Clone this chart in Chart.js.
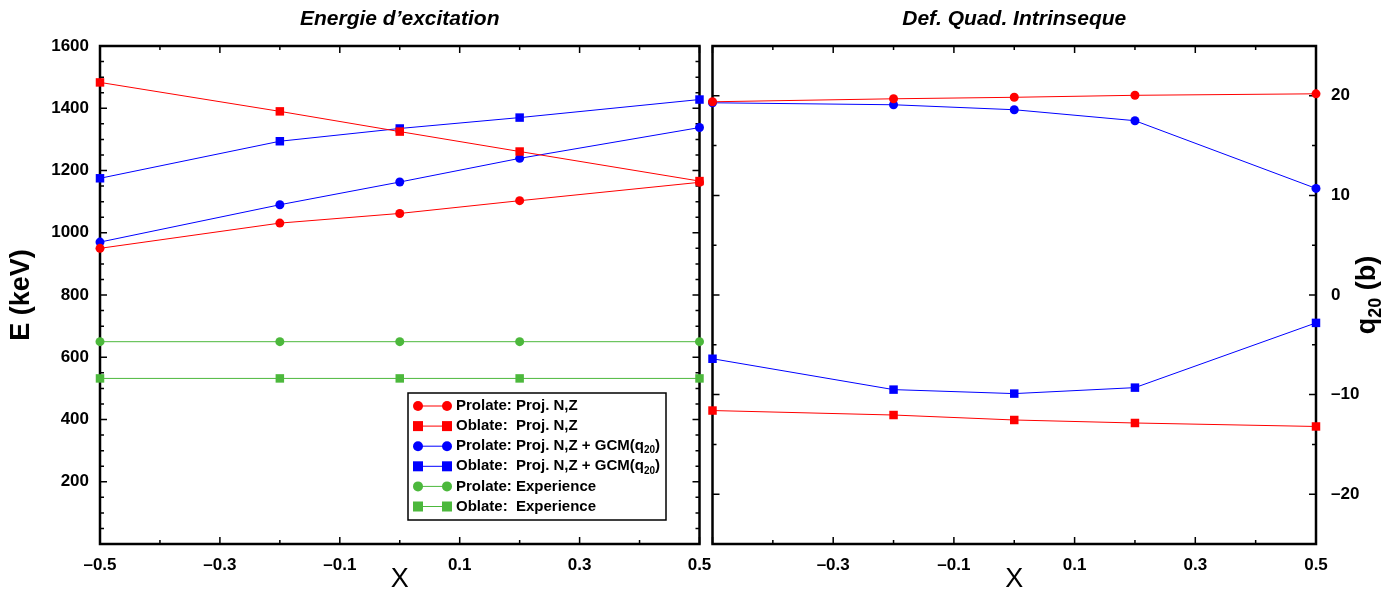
<!DOCTYPE html>
<html>
<head>
<meta charset="utf-8">
<script src="https://cdn.jsdelivr.net/npm/chart.js@4.4.0/dist/chart.umd.min.js"></script>
<style>
  html, body { margin: 0; padding: 0; background: #fff; }
  body { width: 1389px; height: 592px; position: relative; overflow: hidden; }
  #energie { position: absolute; left: 0; top: 0; }
  #quad { position: absolute; left: 704px; top: 0; }
</style>
</head>
<body>
<canvas id="energie" width="712" height="592"></canvas>
<canvas id="quad" width="685" height="592"></canvas>
<script>
// x values shared by every curve
const xVals = [-0.5, -0.2, 0, 0.2, 0.5];

// Energie d'excitation (keV)
const eProlProj = [950, 1031, 1062, 1103, 1162];
const eOblProj  = [1483, 1390, 1325, 1261, 1166];
const eProlGcm  = [970, 1090, 1163, 1239, 1338];
const eOblGcm   = [1175, 1294, 1335, 1370, 1428];
const eProlExp  = [650, 650, 650, 650, 650];
const eOblExp   = [532, 532, 532, 532, 532];

// Def. quad. intrinseque q20 (b)
const qProlProj = [19.4, 19.7, 19.85, 20.05, 20.2];
const qOblProj  = [-11.6, -12.05, -12.55, -12.85, -13.2];
const qProlGcm  = [19.3, 19.1, 18.6, 17.5, 10.7];
const qOblGcm   = [-6.4, -9.5, -9.9, -9.3, -2.8];

// tick labels
const xTicksLeft  = [-0.5, -0.3, -0.1, 0.1, 0.3, 0.5];
const xTicksRight = [-0.3, -0.1, 0.1, 0.3, 0.5];
const eTicks = [200, 400, 600, 800, 1000, 1200, 1400, 1600];
const qTicks = [-20, -10, 0, 10, 20];

const RED = '#ff0000', BLUE = '#0000ff', GREEN = '#4cb83c';

Chart.defaults.font.family = '"Liberation Sans", Arial, sans-serif';
Chart.defaults.color = '#000';

function serie(label, vals, color, style) {
  return {
    label: label,
    data: xVals.map((x, i) => ({ x: x, y: vals[i] })),
    borderColor: color,
    backgroundColor: color,
    borderWidth: 1,
    pointStyle: style,
    pointRadius: style === 'rect' ? 6 : 4.5,
    pointBorderWidth: 0,
    clip: false
  };
}

function fmtX(v) {
  return v < 0 ? '\u2013' + Math.abs(v).toFixed(1) : v.toFixed(1);
}
function fmtInt(v) {
  return v < 0 ? '\u2013' + Math.abs(v) : String(v);
}

function isMajor(v, base, step) {
  const k = (v - base) / step;
  return Math.abs(k - Math.round(k)) < 1e-6;
}

// frame + inward ticks on all four sides
const frame = {
  id: 'frame',
  beforeDatasetsDraw(chart, args, o) {
    const { ctx, chartArea: a, scales: { x, y } } = chart;
    ctx.save();
    ctx.strokeStyle = '#000';
    ctx.lineWidth = 1.5;
    ctx.beginPath();
    let n = Math.round((x.max - x.min) / o.xStep);
    for (let i = 0; i <= n; i++) {
      const v = x.min + i * o.xStep;
      const px = x.getPixelForValue(v);
      const len = isMajor(v, o.xBase, o.xMajor) ? 7 : 4;
      ctx.moveTo(px, a.bottom); ctx.lineTo(px, a.bottom - len);
      ctx.moveTo(px, a.top); ctx.lineTo(px, a.top + len);
    }
    n = Math.round((y.max - y.min) / o.yStep);
    for (let i = 0; i <= n; i++) {
      const v = y.min + i * o.yStep;
      const py = y.getPixelForValue(v);
      const len = isMajor(v, 0, o.yMajor) ? 7 : 4;
      ctx.moveTo(a.left, py); ctx.lineTo(a.left + len, py);
      ctx.moveTo(a.right, py); ctx.lineTo(a.right - len, py);
    }
    ctx.stroke();
    ctx.lineWidth = 2.5;
    ctx.strokeRect(a.left, a.top, a.right - a.left, a.bottom - a.top);
    ctx.restore();
  }
};

// text with "q20" written as q + subscript 20
function richText(ctx, text, x, y, size, rotated) {
  const parts = text.split('q20');
  const big = 'bold ' + size + 'px "Liberation Sans", Arial, sans-serif';
  const small = 'bold ' + Math.round(size * 0.65) + 'px "Liberation Sans", Arial, sans-serif';
  const pieces = [];
  parts.forEach((p, i) => {
    if (i > 0) {
      pieces.push({ t: 'q', f: big, dy: 0 });
      pieces.push({ t: '20', f: small, dy: size * 0.3 });
    }
    if (p) pieces.push({ t: p, f: big, dy: 0 });
  });
  let total = 0;
  pieces.forEach(p => { ctx.font = p.f; p.w = ctx.measureText(p.t).width; total += p.w; });
  let cx = rotated ? -total / 2 : x;
  ctx.textAlign = 'left';
  ctx.textBaseline = 'middle';
  pieces.forEach(p => {
    ctx.font = p.f;
    ctx.fillText(p.t, cx, (rotated ? 0 : y) + p.dy);
    cx += p.w;
  });
}

// titles of panel and axes
const titles = {
  id: 'titles',
  afterDraw(chart, args, o) {
    const { ctx, chartArea: a } = chart;
    const cx = (a.left + a.right) / 2;
    ctx.save();
    ctx.fillStyle = '#000';
    ctx.textAlign = 'center';
    ctx.textBaseline = 'middle';
    ctx.font = 'italic bold 21px "Liberation Sans", Arial, sans-serif';
    ctx.fillText(o.title, cx, 19);
    ctx.font = '27px "Liberation Sans", Arial, sans-serif';
    ctx.fillText(o.xTitle, cx, 580);
    ctx.translate(o.yTitleX, (a.top + a.bottom) / 2);
    ctx.rotate(-Math.PI / 2);
    richText(ctx, o.yTitle, 0, 0, 27, true);
    ctx.restore();
  }
};

// legend drawn inside the left panel
const boxLegend = {
  id: 'boxLegend',
  afterDatasetsDraw(chart, args, o) {
    if (!o.show) return;
    const ctx = chart.ctx;
    ctx.save();
    ctx.fillStyle = '#fff';
    ctx.fillRect(o.x, o.y, o.w, o.h);
    ctx.strokeStyle = '#000';
    ctx.lineWidth = 1.5;
    ctx.strokeRect(o.x, o.y, o.w, o.h);
    chart.data.datasets.forEach((ds, i) => {
      const ry = o.y + 13 + i * 20.1;
      const x1 = o.x + 10, x2 = o.x + 39;
      ctx.strokeStyle = ds.borderColor;
      ctx.fillStyle = ds.borderColor;
      ctx.lineWidth = 1;
      ctx.beginPath(); ctx.moveTo(x1, ry); ctx.lineTo(x2, ry); ctx.stroke();
      [x1, x2].forEach(px => {
        if (ds.pointStyle === 'rect') {
          ctx.fillRect(px - 5, ry - 5, 10, 10);
        } else {
          ctx.beginPath(); ctx.arc(px, ry, 5, 0, Math.PI * 2); ctx.fill();
        }
      });
      ctx.fillStyle = '#000';
      richText(ctx, ds.label, o.x + 48, ry, 15, false);
    });
    ctx.restore();
  }
};

function xScale(tickVals) {
  return {
    type: 'linear', min: -0.5, max: 0.5,
    grid: { display: false, drawTicks: false },
    border: { display: false },
    afterBuildTicks: s => { s.ticks = tickVals.map(value => ({ value })); },
    afterFit: s => { s.height = 48; s.paddingLeft = 0; s.paddingRight = 0; },
    ticks: { padding: 11, autoSkip: false, maxRotation: 0, font: { size: 17, weight: 'bold' }, callback: fmtX }
  };
}

new Chart(document.getElementById('energie'), {
  type: 'line',
  data: {
    datasets: [
      serie('Prolate: Proj. N,Z', eProlProj, RED, 'circle'),
      serie('Oblate:  Proj. N,Z', eOblProj, RED, 'rect'),
      serie('Prolate: Proj. N,Z + GCM(q20)', eProlGcm, BLUE, 'circle'),
      serie('Oblate:  Proj. N,Z + GCM(q20)', eOblGcm, BLUE, 'rect'),
      serie('Prolate: Experience', eProlExp, GREEN, 'circle'),
      serie('Oblate:  Experience', eOblExp, GREEN, 'rect')
    ]
  },
  options: {
    responsive: false,
    animation: false,
    events: [],
    layout: { padding: { top: 46, right: 12.5, left: 0, bottom: 0 } },
    plugins: {
      legend: { display: false },
      tooltip: { enabled: false },
      frame: { xStep: 0.1, xBase: -0.5, xMajor: 0.2, yStep: 50, yMajor: 200 },
      titles: { title: 'Energie d\u2019excitation', xTitle: 'X', yTitle: 'E (keV)', yTitleX: 22 },
      boxLegend: { show: true, x: 408, y: 393, w: 258, h: 127 }
    },
    scales: {
      x: xScale(xTicksLeft),
      y: {
        min: 0, max: 1600, position: 'left',
        grid: { display: false, drawTicks: false },
        border: { display: false },
        afterBuildTicks: s => { s.ticks = eTicks.map(value => ({ value })); },
        afterFit: s => { s.width = 100; s.paddingTop = 0; s.paddingBottom = 0; },
        ticks: { padding: 11, autoSkip: false, font: { size: 17, weight: 'bold' }, callback: fmtInt }
      }
    }
  },
  plugins: [frame, titles, boxLegend]
});

new Chart(document.getElementById('quad'), {
  type: 'line',
  data: {
    datasets: [
      serie('Prolate: Proj. N,Z', qProlProj, RED, 'circle'),
      serie('Oblate:  Proj. N,Z', qOblProj, RED, 'rect'),
      serie('Prolate: Proj. N,Z + GCM(q20)', qProlGcm, BLUE, 'circle'),
      serie('Oblate:  Proj. N,Z + GCM(q20)', qOblGcm, BLUE, 'rect')
    ]
  },
  options: {
    responsive: false,
    animation: false,
    events: [],
    layout: { padding: { top: 46, right: 0, left: 8.5, bottom: 0 } },
    plugins: {
      legend: { display: false },
      tooltip: { enabled: false },
      frame: { xStep: 0.1, xBase: -0.5, xMajor: 0.2, yStep: 5, yMajor: 10 },
      titles: { title: 'Def. Quad. Intrinseque', xTitle: 'X', yTitle: 'q20 (b)', yTitleX: 664 },
      boxLegend: { show: false }
    },
    scales: {
      x: xScale(xTicksRight),
      y: {
        min: -25, max: 25, position: 'right',
        grid: { display: false, drawTicks: false },
        border: { display: false },
        afterBuildTicks: s => { s.ticks = qTicks.map(value => ({ value })); },
        afterFit: s => { s.width = 73; s.paddingTop = 0; s.paddingBottom = 0; },
        ticks: { padding: 15, autoSkip: false, font: { size: 17, weight: 'bold' }, callback: fmtInt }
      }
    }
  },
  plugins: [frame, titles, boxLegend]
});
</script>
</body>
</html>
